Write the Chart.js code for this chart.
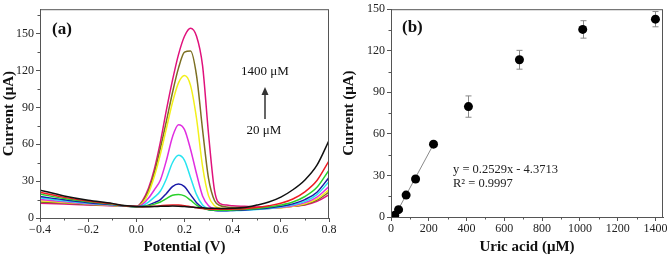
<!DOCTYPE html>
<html lang="en">
<head>
    <meta charset="UTF-8">
    <title>Uric acid DPV</title>
    <script src="https://cdn.jsdelivr.net/npm/chart.js"></script>
    <style>
        body { margin: 0; background: #fff; }
        .panel { position: absolute; top: 0; height: 260px; }
    </style>
</head>
<body>
    <div class="panel" style="left:0;width:340px"><canvas id="dpvChart" width="340" height="260"></canvas></div>
    <div class="panel" style="left:340px;width:329px"><canvas id="calChart" width="329" height="260"></canvas></div>

    <script>
        // (a) DPV curves, current (uA) vs potential (V)
        const potential = [-0.4, -0.3, -0.2, -0.1, -0.05, 0, 0.025, 0.05, 0.075, 0.1, 0.125, 0.15, 0.175, 0.2, 0.225,
                           0.25, 0.275, 0.3, 0.325, 0.35, 0.375, 0.4, 0.45, 0.5, 0.55, 0.6, 0.65, 0.7, 0.75, 0.8];
        const curBlack   = [22.7, 18, 14.5, 11.9, 10.1, 9.3, 9.2, 9.2, 9.3, 9.5, 9.6, 9.7, 9.6, 9.3, 9,
                            8.6, 8.3, 8, 7.9, 7.8, 7.8, 7.9, 8.5, 10.5, 13, 17, 23, 31, 43, 63];
        const curRed     = [21, 16.8, 13.8, 11.5, 10, 9.3, 9.2, 9.3, 9.6, 10, 10.4, 10.6, 10.5, 10, 9.2,
                            8.4, 7.8, 7.4, 7.2, 7.1, 7.1, 7.2, 7.6, 8.5, 10, 12, 15.5, 21.3, 30.5, 46.5];
        const curGreen   = [19.5, 15.8, 13.2, 11.2, 9.9, 9.2, 9.3, 10, 11.3, 13, 15.8, 18.5, 19.2, 18, 14.5,
                            10.5, 8, 6.8, 6.4, 6.3, 6.4, 6.6, 7.1, 7.8, 8.9, 10.5, 13, 17.5, 25, 39];
        const curBlue    = [17.5, 14.8, 12.5, 10.9, 9.8, 9.2, 9.5, 10.5, 12.5, 15, 20, 25.5, 27.6, 25.5, 19,
                            12.5, 8.5, 6.8, 6.2, 6, 6, 6.2, 6.6, 7.3, 8.2, 9.5, 11.5, 15, 21, 33];
        const curCyan    = [16.5, 14, 12, 10.7, 9.8, 9.2, 10, 13, 17, 22, 32, 45, 51, 47, 33,
                            19, 10.5, 7.5, 6.3, 6, 6, 6.1, 6.4, 7, 7.8, 9, 10.8, 13.5, 19, 29.7];
        const curMagenta = [15, 13.3, 11.6, 10.5, 9.7, 9.2, 11, 16, 23, 31, 47, 66, 76, 72, 56,
                            36, 18, 10, 7.5, 6.8, 6.6, 6.6, 6.8, 7.2, 7.8, 8.5, 10, 12.5, 17, 25.6];
        const curYellow  = [14, 12.7, 11.3, 10.3, 9.6, 9.2, 12, 20, 34, 52, 73, 94, 110, 116, 108,
                            81, 42, 18, 10, 8, 7.5, 7.3, 7.3, 7.5, 7.8, 8.2, 9.5, 11.5, 15.5, 23];
        const curOlive   = [13, 12.2, 11, 10.1, 9.6, 9.3, 13, 22, 37, 57, 79, 102, 122, 135, 136,
                            116, 72, 32, 14, 10, 9, 8.5, 8.5, 8.3, 8.3, 8.5, 9.5, 11, 14.5, 21];
        const curCrimson = [12, 11.3, 10.5, 9.9, 9.7, 9.5, 14, 24, 40, 62, 88, 112, 133, 148, 154.5,
                            148, 124, 68, 22, 11.5, 10.5, 10, 9.5, 9, 9, 9, 9.5, 10.5, 13.5, 19];
        const curveColors = ['#111111', '#ee1c24', '#2ad02a', '#1a1aa8', '#27e4f0', '#e02ee0', '#f2f01a', '#7c6f22', '#e0127c'];

        // (b) calibration
        const uaConc    = [20, 40, 80, 130, 225, 410, 680, 1015, 1400];
        const uaCurrent = [1.2, 5.3, 15.8, 27.4, 52.6, 79.7, 113.5, 135.4, 142.8];
        const uaError   = [0.8, 1, 1.2, 1.5, 1.5, 7.7, 6.8, 6.3, 5.5];
        const fitX = [18, 225];
        const fitY = [0.2, 52.5];

        // ticks
        const potTicks = [-0.4, -0.2, 0, 0.2, 0.4, 0.6, 0.8];
        const potMinor = [-0.3, -0.1, 0.1, 0.3, 0.5, 0.7];
        const curTicksA = [0, 30, 60, 90, 120, 150];
        const curMinorA = [15, 45, 75, 105, 135, 165];
        const concTicks = [0, 200, 400, 600, 800, 1000, 1200, 1400];
        const concMinor = [100, 300, 500, 700, 900, 1100, 1300];
        const curTicksB = [0, 30, 60, 90, 120, 150];
        const curMinorB = [15, 45, 75, 105, 135];

        const serif = "'Liberation Serif', 'Times New Roman', serif";
        const axisColor = '#555';

        function xy(xs, ys) {
            return xs.map((x, i) => ({ x: x, y: ys[i] }));
        }

        function fixTicks(list) {
            return function (scale) {
                scale.ticks = list.map(v => ({ value: v }));
            };
        }

        // frame + minor ticks
        function framePlugin(xMinor, yMinor) {
            return {
                id: 'frame',
                afterDraw(chart) {
                    const ctx = chart.ctx, a = chart.chartArea;
                    const xs = chart.scales.x, ys = chart.scales.y;
                    ctx.save();
                    ctx.strokeStyle = axisColor;
                    ctx.lineWidth = 1;
                    ctx.strokeRect(a.left + 0.5, a.top + 0.5, a.right - a.left - 1, a.bottom - a.top);
                    ctx.beginPath();
                    xMinor.forEach(v => {
                        const p = Math.round(xs.getPixelForValue(v)) + 0.5;
                        ctx.moveTo(p, a.bottom);
                        ctx.lineTo(p, a.bottom + 2.5);
                    });
                    yMinor.forEach(v => {
                        const p = Math.round(ys.getPixelForValue(v)) + 0.5;
                        ctx.moveTo(a.left, p);
                        ctx.lineTo(a.left - 2.5, p);
                    });
                    ctx.stroke();
                    ctx.restore();
                }
            };
        }

        function scaleOpts(min, max, ticks, fmt, title, fitSize, horizontal) {
            return {
                type: 'linear',
                min: min,
                max: max,
                afterBuildTicks: fixTicks(ticks),
                afterFit: horizontal ? (s => { s.height = fitSize; }) : (s => { s.width = fitSize; }),
                grid: { drawOnChartArea: false, drawTicks: true, tickLength: 4, color: axisColor },
                border: { color: axisColor },
                ticks: {
                    color: '#222',
                    padding: horizontal ? 1 : 2,
                    maxRotation: 0,
                    font: { family: serif, size: 12 },
                    callback: fmt
                },
                title: {
                    display: true,
                    text: title,
                    color: '#111',
                    padding: horizontal ? { top: 0, bottom: 4 } : { top: 0, bottom: 0 },
                    font: { family: serif, size: 15, weight: 'bold' }
                }
            };
        }

        function renderDpv() {
            const series = [curBlack, curRed, curGreen, curBlue, curCyan, curMagenta, curYellow, curOlive, curCrimson];
            const labels = {
                id: 'labelsA',
                afterDraw(chart) {
                    const ctx = chart.ctx;
                    ctx.save();
                    ctx.fillStyle = '#111';
                    ctx.font = 'bold 17px ' + serif;
                    ctx.textBaseline = 'middle';
                    ctx.fillText('(a)', 52, 30);
                    ctx.font = '13px ' + serif;
                    ctx.textAlign = 'center';
                    ctx.fillText('1400 μM', 265, 72);
                    ctx.fillText('20 μM', 264, 131);
                    ctx.strokeStyle = '#333';
                    ctx.fillStyle = '#333';
                    ctx.lineWidth = 1.5;
                    ctx.beginPath();
                    ctx.moveTo(265, 119);
                    ctx.lineTo(265, 92);
                    ctx.stroke();
                    ctx.beginPath();
                    ctx.moveTo(265, 87);
                    ctx.lineTo(261.5, 95);
                    ctx.lineTo(268.5, 95);
                    ctx.closePath();
                    ctx.fill();
                    ctx.restore();
                }
            };
            new Chart(document.getElementById('dpvChart'), {
                type: 'line',
                data: {
                    datasets: series.map((s, i) => ({
                        data: xy(potential, s),
                        borderColor: curveColors[i],
                        borderWidth: 1.5,
                        pointRadius: 0,
                        cubicInterpolationMode: 'monotone',
                        fill: false
                    }))
                },
                options: {
                    responsive: false,
                    animation: false,
                    layout: { padding: { top: 8, right: 11, left: 0, bottom: 0 } },
                    plugins: { legend: { display: false }, tooltip: { enabled: false } },
                    scales: {
                        x: scaleOpts(-0.4, 0.8, potTicks, v => v.toFixed(1).replace('-', '\u2212'), 'Potential (V)', 42, true),
                        y: scaleOpts(0, 170, curTicksA, v => String(v), 'Current (μA)', 40, false)
                    }
                },
                plugins: [framePlugin(potMinor, curMinorA), labels]
            });
        }

        function renderCal() {
            const errorBars = {
                id: 'errorBars',
                beforeDatasetsDraw(chart) {
                    const ctx = chart.ctx, xs = chart.scales.x, ys = chart.scales.y;
                    ctx.save();
                    ctx.strokeStyle = '#8a8a8a';
                    ctx.lineWidth = 1;
                    ctx.beginPath();
                    uaConc.forEach((c, i) => {
                        const px = Math.round(xs.getPixelForValue(c)) + 0.5;
                        const top = ys.getPixelForValue(uaCurrent[i] + uaError[i]);
                        const bot = ys.getPixelForValue(uaCurrent[i] - uaError[i]);
                        ctx.moveTo(px, top); ctx.lineTo(px, bot);
                        ctx.moveTo(px - 3, top); ctx.lineTo(px + 3, top);
                        ctx.moveTo(px - 3, bot); ctx.lineTo(px + 3, bot);
                    });
                    ctx.stroke();
                    ctx.restore();
                }
            };
            const labels = {
                id: 'labelsB',
                afterDraw(chart) {
                    const ctx = chart.ctx;
                    ctx.save();
                    ctx.fillStyle = '#111';
                    ctx.textBaseline = 'middle';
                    ctx.font = 'bold 17px ' + serif;
                    ctx.fillText('(b)', 62, 28);
                    ctx.fillStyle = '#222';
                    ctx.font = '12.5px ' + serif;
                    ctx.fillText('y = 0.2529x - 4.3713', 113, 170);
                    ctx.fillText('R² = 0.9997', 113, 184);
                    ctx.restore();
                }
            };
            new Chart(document.getElementById('calChart'), {
                type: 'scatter',
                data: {
                    datasets: [
                        {
                            data: xy(uaConc, uaCurrent),
                            backgroundColor: '#000',
                            borderColor: '#000',
                            pointRadius: 4.5,
                            pointBorderWidth: 0
                        },
                        {
                            type: 'line',
                            data: xy(fitX, fitY),
                            borderColor: '#8a8a8a',
                            borderWidth: 1,
                            pointRadius: 0,
                            fill: false
                        }
                    ]
                },
                options: {
                    responsive: false,
                    animation: false,
                    layout: { padding: { top: 8, right: 6, left: 0, bottom: 0 } },
                    plugins: { legend: { display: false }, tooltip: { enabled: false } },
                    scales: {
                        x: scaleOpts(0, 1440, concTicks, v => String(v), 'Uric acid (μM)', 43, true),
                        y: scaleOpts(0, 150, curTicksB, v => String(v), 'Current (μA)', 51, false)
                    }
                },
                plugins: [errorBars, framePlugin(concMinor, curMinorB), labels]
            });
        }

        renderDpv();
        renderCal();
    </script>
</body>
</html>
